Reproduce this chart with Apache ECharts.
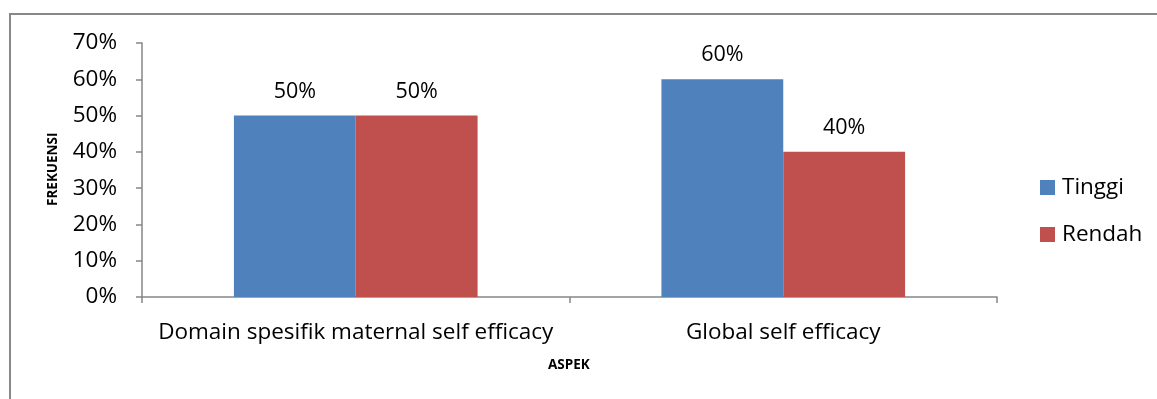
<!DOCTYPE html>
<html>
<head>
<meta charset="utf-8">
<script src="https://cdn.jsdelivr.net/npm/echarts@6/dist/echarts.min.js"></script>
<style>
  html, body { margin: 0; padding: 0; background: #fff; }
  #chart { width: 1157px; height: 399px; }
</style>
</head>
<body>
<div id="chart"></div>
<script>
// Aspects measured and share of respondents (percent) per level
const categories = ['Domain spesifik maternal self efficacy', 'Global self efficacy'];
const tinggi = [50, 60];
const rendah = [50, 40];
const seriesNames = ['Tinggi', 'Rendah'];
const yAxisName = 'FREKUENSI';
const xAxisName = 'ASPEK';

const FONT = '"Open Sans", "Noto Sans", sans-serif';
const FS = 22.5;
const axisGray = '#868686';

const chart = echarts.init(document.getElementById('chart'), null, { renderer: 'canvas' });

const labelStyle = {
  show: true,
  position: 'top',
  distance: 13,
  formatter: p => p.value + '%',
  fontFamily: FONT,
  fontSize: 21.5,
  color: '#000'
};

chart.setOption({
  animation: false,
  backgroundColor: '#fff',
  graphic: [{
    type: 'rect',
    shape: { x: 10, y: 14, width: 1160, height: 400 },
    style: { fill: 'none', stroke: '#888', lineWidth: 2 },
    silent: true
  }, {
    type: 'text',
    left: 548,
    top: 358,
    style: { text: xAxisName, font: 'bold 13.5px ' + FONT, fill: '#000' }
  }, {
    type: 'text',
    x: 46,
    y: 206,
    rotation: Math.PI / 2,
    style: { text: yAxisName, font: 'bold 13.5px ' + FONT, fill: '#000' }
  }],
  grid: { left: 142, right: 160, top: 43, bottom: 102, containLabel: false },
  legend: {
    orient: 'vertical',
    left: 1040,
    top: 176,
    padding: 0,
    itemWidth: 15,
    itemHeight: 15,
    itemGap: 24,
    icon: 'rect',
    textStyle: { fontFamily: FONT, fontSize: FS, color: '#000', padding: [0, 0, 0, 2] },
    data: seriesNames
  },
  xAxis: {
    type: 'category',
    data: categories,
    axisLine: { lineStyle: { color: axisGray, width: 1.5 } },
    axisTick: { show: true, alignWithLabel: false, length: 6, inside: false, lineStyle: { color: axisGray, width: 1.5 } },
    axisLabel: { interval: 0, fontFamily: FONT, fontSize: FS, color: '#000', margin: 24 }
  },
  yAxis: {
    type: 'value',
    min: 0,
    max: 70,
    interval: 10,
    axisLine: { show: true, lineStyle: { color: axisGray, width: 1.5 } },
    axisTick: { show: true, length: 6, lineStyle: { color: axisGray, width: 1.5 } },
    splitLine: { show: false },
    axisLabel: {
      fontFamily: FONT, fontSize: FS, color: '#000', margin: 25,
      formatter: v => v + '%'
    }
  },
  series: [{
    name: seriesNames[0],
    type: 'bar',
    data: tinggi,
    barGap: '0%',
    barCategoryGap: '43%',
    itemStyle: { color: '#4F81BD' },
    label: labelStyle
  }, {
    name: seriesNames[1],
    type: 'bar',
    data: rendah,
    itemStyle: { color: '#C0504D' },
    label: labelStyle
  }]
});
</script>
</body>
</html>
